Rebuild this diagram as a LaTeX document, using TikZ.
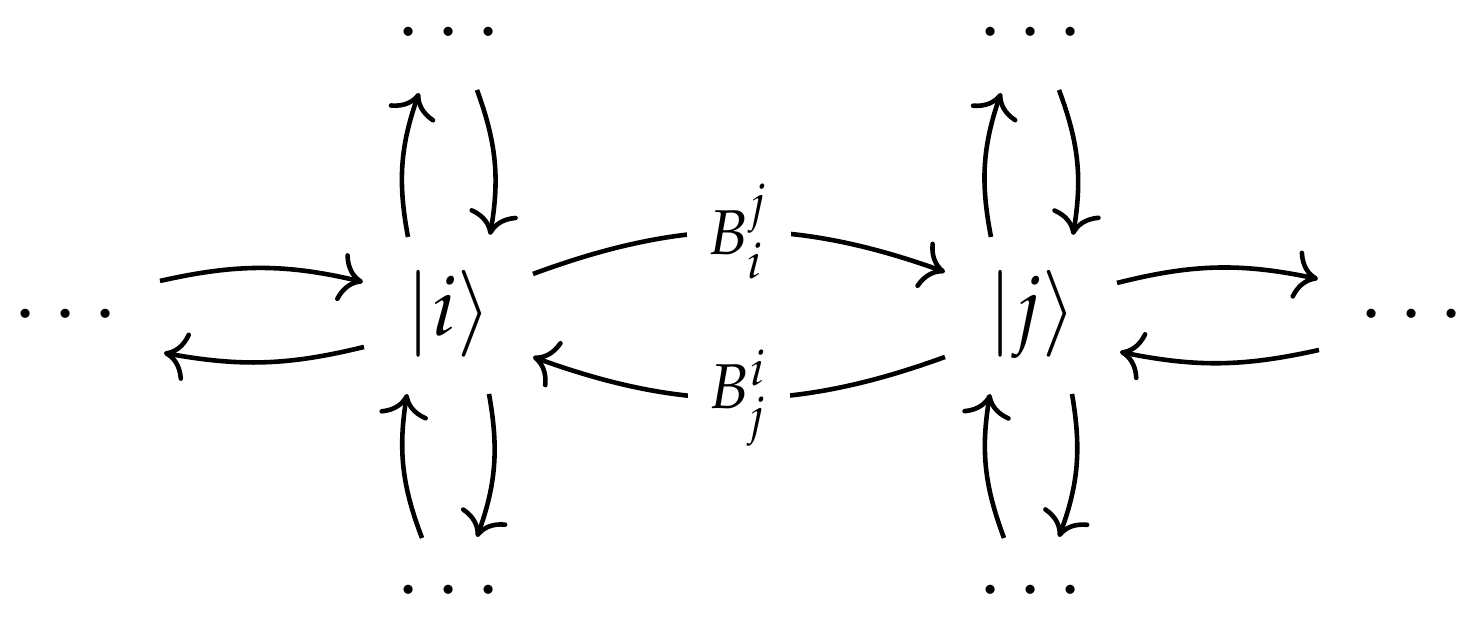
\documentclass[tikz,border=0pt]{standalone}
\usepackage{mathpazo}
\usetikzlibrary{arrows.meta}
\newcommand\tridots{\makebox[4.8pt]{$\cdot$}\makebox[4.8pt]{$\cdot$}\makebox[4.8pt]{$\cdot$}}
\begin{document}
\begin{tikzpicture}[x=0.12pt,y=-0.12pt,
  obj/.style={inner sep=0pt,text height=7.5pt,text depth=2.5pt},
  dotsnode/.style={inner sep=0pt,anchor=base},
  arr/.style={line width=0.55pt,-{Computer Modern Rightarrow}},
  lbl/.style={fill=white,inner sep=2.5pt}]
\useasboundingbox (0,0) rectangle (1484,629);
\node[dotsnode] (ld) at (66,336) {\tridots};
\node[obj] (i) at (449,315) {$|i\rangle$};
\node[obj] (j) at (1032,315) {$|j\rangle$};
\node[dotsnode] (rd) at (1412,336) {\tridots};
\node[dotsnode] (it) at (449,54) {\tridots};
\node[dotsnode] (ib) at (449,612) {\tridots};
\node[dotsnode] (jt) at (1031,54) {\tridots};
\node[dotsnode] (jb) at (1031,612) {\tridots};
\draw[arr] ([shift={(94,-55)}]ld.base) to[bend left=13] ([shift={(-86,-33)}]i.center);
\draw[arr] ([shift={(-85,32)}]i.center) to[bend left=12] ([shift={(98,17)}]ld.base);
\draw[arr] ([shift={(84,-41)}]i.center) to[bend left=20] node[lbl]{$\scriptstyle B^j_i$} ([shift={(-87,-43)}]j.center);
\draw[arr] ([shift={(-87,42)}]j.center) to[bend left=20] node[lbl]{$\scriptstyle B^i_j$} ([shift={(84,42)}]i.center);
\draw[arr] ([shift={(85,-32)}]j.center) to[bend left=13] ([shift={(-94,-57)}]rd.base);
\draw[arr] ([shift={(-93,14)}]rd.base) to[bend left=12] ([shift={(88,37)}]j.center);
\foreach \n/\t/\b in {i/it/ib, j/jt/jb}{
  \draw[arr] ([shift={(-41,-78)}]\n.center) to[bend left=15] ([shift={(-30,39)}]\t.base);
  \draw[arr] ([shift={(28,36)}]\t.base) to[bend left=15] ([shift={(41,-80)}]\n.center);
  \draw[arr] ([shift={(-27,-74)}]\b.base) to[bend left=15] ([shift={(-42,79)}]\n.center);
  \draw[arr] ([shift={(40,79)}]\n.center) to[bend left=15] ([shift={(28,-75)}]\b.base);
}
\end{tikzpicture}
\end{document}
